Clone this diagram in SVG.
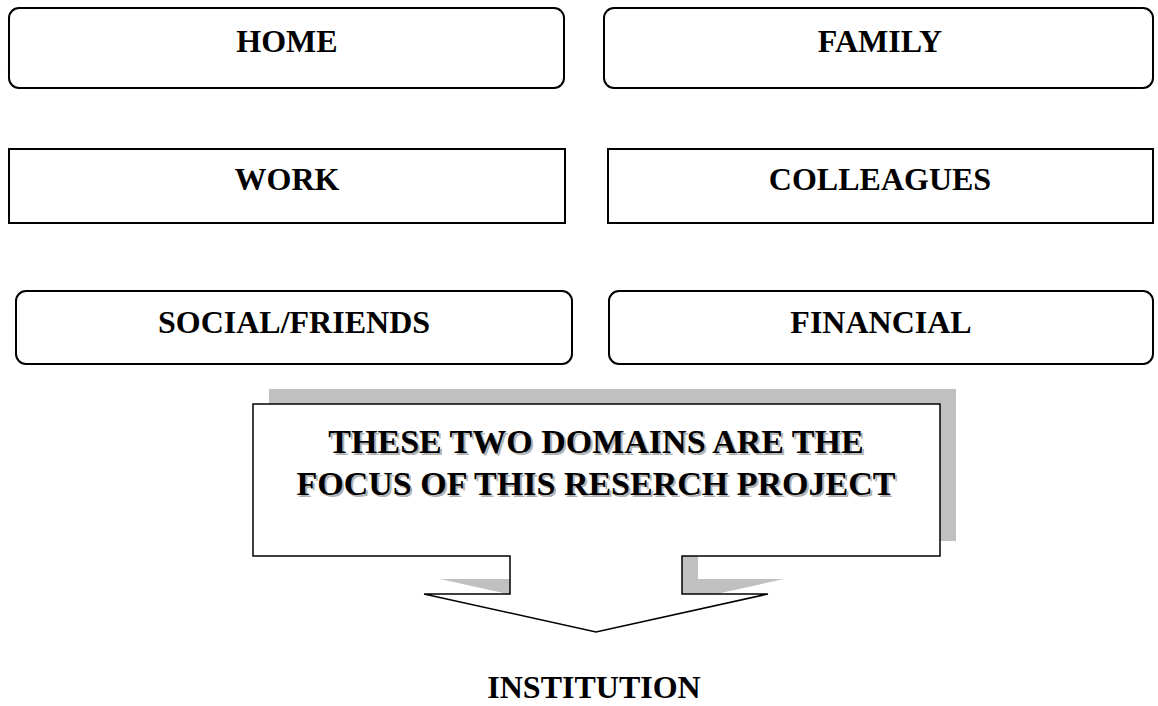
<svg xmlns="http://www.w3.org/2000/svg" width="1158" height="706" viewBox="0 0 1158 706">
<style>
.box{fill:#fff;stroke:#000;stroke-width:2}
.lbl{font-family:"Liberation Serif","Times New Roman",serif;font-weight:bold;font-size:32px;fill:#000;text-anchor:middle}
.ctext{font-family:"Liberation Serif","Times New Roman",serif;font-weight:bold;font-size:34px;text-anchor:middle}
</style>
<rect width="1158" height="706" fill="#fff"/>
<g id="home"><rect class="box" x="9" y="8" width="555" height="80" rx="10"/><text class="lbl" x="287" y="52">HOME</text></g>
<g id="family"><rect class="box" x="604" y="8" width="549" height="80" rx="10"/><text class="lbl" x="880" y="52">FAMILY</text></g>
<g id="work"><rect class="box" x="9" y="149" width="556" height="74"/><text class="lbl" x="287" y="190">WORK</text></g>
<g id="colleagues"><rect class="box" x="608" y="149" width="545" height="74"/><text class="lbl" x="880" y="190">COLLEAGUES</text></g>
<g id="social"><rect class="box" x="16" y="291" width="556" height="73" rx="10"/><text class="lbl" x="294" y="333">SOCIAL/FRIENDS</text></g>
<g id="financial"><rect class="box" x="609" y="291" width="544" height="73" rx="10"/><text class="lbl" x="881" y="333">FINANCIAL</text></g>
<g id="callout">
<polygon points="253,404 940,404 940,556 682,556 682,594 768,594 596,632 424,594 510,594 510,556 253,556" transform="translate(16,-15)" fill="#c0c0c0"/>
<polygon points="253,404 940,404 940,556 682,556 682,594 768,594 596,632 424,594 510,594 510,556 253,556" fill="#fff" stroke="#000" stroke-width="1.5"/>
<g fill="#b3b3b3" transform="translate(2,2)">
<text class="ctext" x="596" y="453">THESE TWO DOMAINS ARE THE</text>
<text class="ctext" x="596" y="495">FOCUS OF THIS RESERCH PROJECT</text>
</g>
<g fill="#000">
<text class="ctext" x="596" y="453">THESE TWO DOMAINS ARE THE</text>
<text class="ctext" x="596" y="495">FOCUS OF THIS RESERCH PROJECT</text>
</g>
</g>
<g id="institution"><text class="lbl" x="594" y="698">INSTITUTION</text></g>
<g id="connectors"></g>
</svg>
